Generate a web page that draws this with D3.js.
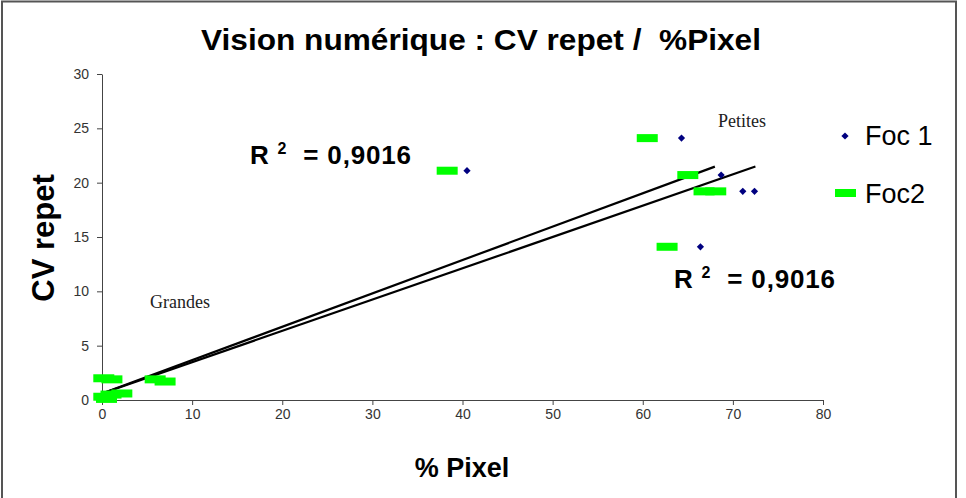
<!DOCTYPE html>
<html lang="fr">
<head>
    <meta charset="UTF-8">
    <title>Vision numérique : CV repet / %Pixel</title>
    <script src="https://d3js.org/d3.v7.min.js"></script>
    <style>
        body { margin: 0; background: #fff; }
        svg { display: block; font-family: "Liberation Sans", Arial, sans-serif; }
        .axis path, .axis line { stroke: #444; }
        .axis text { font-size: 14px; fill: #333; font-family: "Liberation Sans", Arial, sans-serif; }
        .pre { white-space: pre; }
    </style>
</head>
<body>
<div id="chart"></div>
<script>
    // Foc 1 (diamonds)
    const foc1X = [0.3, 0.8, 1.2, 6.5, 40.5, 64.3, 68.7, 71.1, 72.4, 66.4];
    const foc1Y = [0.2, 0.4, 1.9, 1.8, 21.1, 24.1, 20.7, 19.2, 19.2, 14.1];
    // Foc2 (green dashes)
    const foc2X = [0.2, 1.1, 5.9, 7.0, 0.2, 1.0, 2.2, 0.5, 38.3, 60.5, 65.0, 66.8, 68.1, 62.7];
    const foc2Y = [2.0, 1.9, 1.9, 1.7, 0.3, 0.5, 0.6, 0.1, 21.1, 24.1, 20.7, 19.2, 19.2, 14.1];

    // trendlines: [slope, intercept, xStart, xEnd]
    const trend1 = [0.288, 0.6, 0, 72.5];
    const trend2 = [0.307, 0.6, 0, 68];

    const xTicks = [0, 10, 20, 30, 40, 50, 60, 70, 80];
    const yTicks = [0, 5, 10, 15, 20, 25, 30];
    const seriesNames = ["Foc 1", "Foc2"];

    const width = 966, height = 498;
    const margin = { left: 102, right: 143, top: 74, bottom: 98 };

    const svg = d3.select("#chart").append("svg")
        .attr("width", width)
        .attr("height", height);

    // outer frame
    svg.append("rect")
        .attr("x", 2).attr("y", 1.5)
        .attr("width", 954).attr("height", 520)
        .attr("fill", "none")
        .attr("stroke", "#555")
        .attr("stroke-width", 2);

    const x = d3.scaleLinear().domain([0, 80]).range([margin.left, width - margin.right]);
    const y = d3.scaleLinear().domain([0, 30]).range([height - margin.bottom, margin.top]);

    svg.append("g")
        .attr("class", "axis")
        .attr("transform", `translate(0,${y(0)})`)
        .call(d3.axisBottom(x).tickValues(xTicks).tickSize(5).tickPadding(4).tickSizeOuter(0));

    svg.append("g")
        .attr("class", "axis")
        .attr("transform", `translate(${x(0)},0)`)
        .call(d3.axisLeft(y).tickValues(yTicks).tickSize(5).tickPadding(8).tickSizeOuter(0));

    // trendlines
    [trend1, trend2].forEach(t => {
        svg.append("line")
            .attr("x1", x(t[2])).attr("y1", y(t[0] * t[2] + t[1]))
            .attr("x2", x(t[3])).attr("y2", y(t[0] * t[3] + t[1]))
            .attr("stroke", "#000")
            .attr("stroke-width", 2.2);
    });

    const diamond = d3.symbol().type(d3.symbolSquare).size(26);

    svg.append("g").selectAll("path")
        .data(foc1X.map((v, i) => [v, foc1Y[i]]))
        .enter().append("path")
        .attr("d", diamond)
        .attr("transform", d => `translate(${x(d[0])},${y(d[1])}) rotate(45)`)
        .attr("fill", "#000080");

    svg.append("g").selectAll("rect")
        .data(foc2X.map((v, i) => [v, foc2Y[i]]))
        .enter().append("rect")
        .attr("x", d => x(d[0]) - 10.5)
        .attr("y", d => y(d[1]) - 4)
        .attr("width", 21)
        .attr("height", 8)
        .attr("fill", "#00ff00");

    // title
    svg.append("text")
        .attr("class", "pre")
        .attr("x", 481).attr("y", 50)
        .attr("text-anchor", "middle")
        .attr("font-size", 30)
        .attr("font-weight", "bold")
        .attr("textLength", 560)
        .attr("lengthAdjust", "spacingAndGlyphs")
        .text("Vision numérique : CV repet /  %Pixel");

    // axis titles
    svg.append("text")
        .attr("x", 462).attr("y", 477)
        .attr("text-anchor", "middle")
        .attr("font-size", 27)
        .attr("font-weight", "bold")
        .text("% Pixel");

    svg.append("text")
        .attr("transform", "translate(54,238) rotate(-90)")
        .attr("text-anchor", "middle")
        .attr("font-size", 31)
        .attr("font-weight", "bold")
        .text("CV repet");

    // R² labels
    function r2Label(px, py) {
        const t = svg.append("text")
            .attr("class", "pre")
            .attr("x", px).attr("y", py)
            .attr("font-size", 26)
            .attr("font-weight", "bold")
            .attr("letter-spacing", 0.8);
        t.append("tspan").text("R ");
        t.append("tspan").attr("dy", -10).attr("font-size", 16).text("2");
        t.append("tspan").attr("dy", 10).text("  = 0,9016");
    }
    r2Label(250, 164);
    r2Label(674, 288);

    // annotations
    svg.append("text")
        .attr("x", 718).attr("y", 127)
        .attr("font-family", "Liberation Serif, Times New Roman, serif")
        .attr("font-size", 18)
        .attr("fill", "#222")
        .text("Petites");

    svg.append("text")
        .attr("x", 150).attr("y", 308)
        .attr("font-family", "Liberation Serif, Times New Roman, serif")
        .attr("font-size", 18)
        .attr("fill", "#222")
        .text("Grandes");

    // legend
    const legend = svg.append("g");
    legend.append("path")
        .attr("d", diamond)
        .attr("transform", "translate(845,136) rotate(45)")
        .attr("fill", "#000080");
    legend.append("rect")
        .attr("x", 835).attr("y", 189)
        .attr("width", 21).attr("height", 8)
        .attr("fill", "#00ff00");
    legend.selectAll("text.leg")
        .data(seriesNames)
        .enter().append("text")
        .attr("class", "leg")
        .attr("x", 865)
        .attr("y", (d, i) => 145 + i * 58)
        .attr("font-size", 27)
        .text(d => d);
</script>
</body>
</html>
